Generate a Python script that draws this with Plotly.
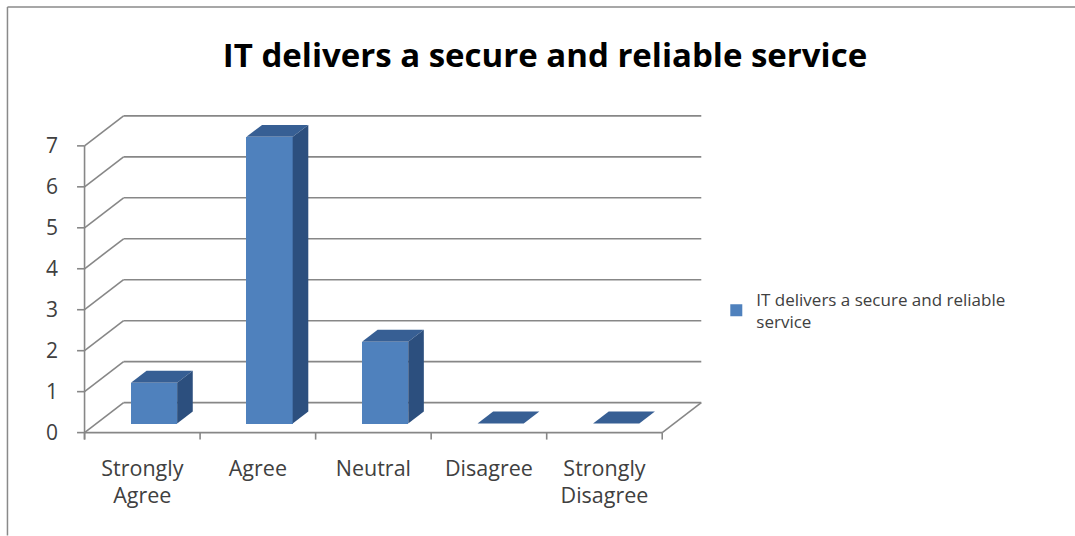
import plotly.graph_objects as go

# ---------------- data ----------------
categories = ["Strongly<br>Agree", "Agree", "Neutral", "Disagree", "Strongly<br>Disagree"]
values = [1, 7, 2, 0, 0]
series_name = "IT delivers a secure and reliable<br>service"
title_text = "IT delivers a secure and reliable service"
y_ticks = [0, 1, 2, 3, 4, 5, 6, 7]

# ---------------- geometry / style ----------------
W, H = 1075, 536
PX_X, PX_Y = 115.4, 41.0          # pixels per data unit
X0_PX, Y0_PX = 85, 433            # pixel position of data (0, 0)
XR = [-0.1, 5.5]
YR = [-0.4, 7.9]
l = X0_PX + XR[0] * PX_X
wplot = (XR[1] - XR[0]) * PX_X
r = W - l - wplot
t = Y0_PX - YR[1] * PX_Y
hplot = (YR[1] - YR[0]) * PX_Y
b = H - t - hplot

DX, DY = 0.338, 0.732   # depth of the 3-D box in data units
F1, F2 = 0.30, 0.70     # depth fraction of bar front / back faces
BW = 0.40               # bar width
GRID = "#878787"
FRONT, TOP, SIDE = "#4F81BD", "#375F94", "#2C4F7E"
FONT = "'Open Sans', Lato, sans-serif"

n = len(categories)
xc = [i + 0.5 + F1 * DX for i in range(n)]
ddx, ddy = (F2 - F1) * DX, (F2 - F1) * DY

fig = go.Figure()
fig.add_trace(go.Bar(
    x=xc, y=values, base=F1 * DY, width=BW, name=series_name,
    marker=dict(color=FRONT, line=dict(width=0)), showlegend=True,
    hoverinfo="skip",
))

shapes = []
def line(x0, y0, x1, y1, w=1.6):
    shapes.append(dict(type="line", xref="x", yref="y", x0=x0, y0=y0, x1=x1, y1=y1,
                       line=dict(color=GRID, width=w), layer="below"))

# walls / gridlines
for v in y_ticks:
    line(0, v, DX, v + DY)
    line(DX, v + DY, n + DX, v + DY)
    line(-0.065, v, 0, v)
line(0, 0, n, 0)
line(n, 0, n + DX, DY)
line(0, -0.17, 0, y_ticks[-1])
for k in range(n + 1):
    line(k, 0, k, -0.17)

# 3-D faces of the bars
for x, v in zip(xc, values):
    xl, xr = x - BW / 2, x + BW / 2
    yb, yt = F1 * DY, v + F1 * DY
    top = f"M{xl},{yt} L{xr},{yt} L{xr+ddx},{yt+ddy} L{xl+ddx},{yt+ddy} Z"
    shapes.append(dict(type="path", xref="x", yref="y", path=top,
                       fillcolor=TOP, line=dict(width=0), layer="above"))
    if v > 0:
        side = f"M{xr},{yb} L{xr},{yt} L{xr+ddx},{yt+ddy} L{xr+ddx},{yb+ddy} Z"
        shapes.append(dict(type="path", xref="x", yref="y", path=side,
                           fillcolor=SIDE, line=dict(width=0), layer="above"))

def px_to_paper_x(px):
    return (px - l) / wplot
def px_to_paper_y(py):
    return (t + hplot - py) / hplot

# outer chart border: left and top edges as separate lines
shapes.append(dict(type="line", xref="paper", yref="paper",
                   x0=px_to_paper_x(8), x1=px_to_paper_x(8),
                   y0=px_to_paper_y(7), y1=px_to_paper_y(H),
                   line=dict(color="#8a8a8a", width=1.5), layer="below"))
shapes.append(dict(type="line", xref="paper", yref="paper",
                   x0=px_to_paper_x(8), x1=px_to_paper_x(W),
                   y0=px_to_paper_y(7), y1=px_to_paper_y(7),
                   line=dict(color="#8a8a8a", width=1.5), layer="below"))

fig.update_layout(
    width=W, height=H,
    margin=dict(l=l, r=r, t=t, b=b, pad=0),
    paper_bgcolor="white", plot_bgcolor="white",
    font=dict(family=FONT, color="#404040"),
    title=dict(text=f"<b>{title_text}</b>", x=545 / W, xanchor="center",
               y=1 - 55 / H, yanchor="middle", xref="container", yref="container",
               font=dict(size=33, color="#000000", family=FONT)),
    xaxis=dict(range=XR, showgrid=False, zeroline=False, showline=False,
               tickmode="array", tickvals=[i + 0.5 for i in range(n)], ticktext=categories,
               ticks="", tickfont=dict(size=21.5, color="#404040"), ticklabelstandoff=4),
    yaxis=dict(range=YR, showgrid=False, zeroline=False, showline=False,
               tickmode="array", tickvals=y_ticks, ticks="",
               tickfont=dict(size=21, color="#404040"), ticklabelstandoff=14),
    legend=dict(x=px_to_paper_x(716), y=px_to_paper_y(282), xanchor="left", yanchor="top",
                font=dict(size=17, color="#404040", family=FONT),
                bgcolor="rgba(0,0,0,0)", itemwidth=30),
    shapes=shapes,
    bargap=0,
)

fig.write_html("out.html")
